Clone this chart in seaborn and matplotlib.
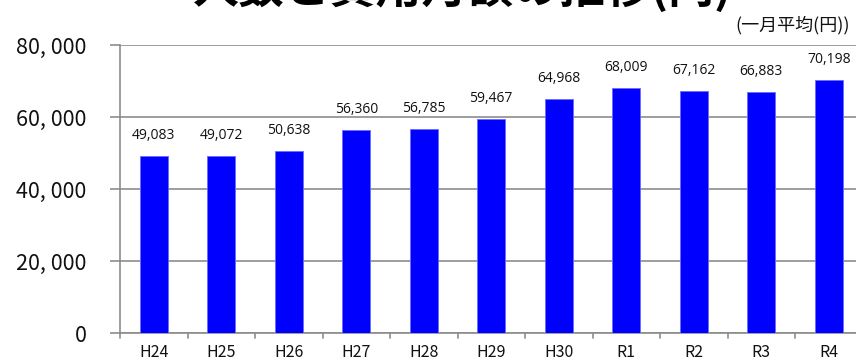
import matplotlib
matplotlib.use("Agg")
import matplotlib.pyplot as plt
import seaborn as sns
import pandas as pd

years = ["H24", "H25", "H26", "H27", "H28", "H29", "H30", "R1", "R2", "R3", "R4"]
monthly_cost = [49083, 49072, 50638, 56360, 56785, 59467, 64968, 68009, 67162, 66883, 70198]
y_ticks = [0, 20000, 40000, 60000, 80000]
y_tick_labels = ["0", "20, 000", "40, 000", "60, 000", "80, 000"]
title_text = "人数と費用月額の推移(円)"
unit_text = "(一月平均(円))"

sns.set_theme(style="white")
plt.rcParams["font.family"] = ["Noto Sans CJK JP", "DejaVu Sans"]

df = pd.DataFrame({"year": years, "cost": monthly_cost})

fig = plt.figure(figsize=(8.56, 3.61), dpi=100)
W, H = 856, 361
left, right, top, bottom = 120, 856, 45, 333
ax = fig.add_axes([left / W, 1 - bottom / H, (right - left) / W, (bottom - top) / H])

sns.barplot(data=df, x="year", y="cost", color="#0000FF", saturation=1,
            width=0.415, ax=ax, zorder=3)
for p in ax.patches:
    p.set_edgecolor("#6A6AFF")
    p.set_linewidth(0.6)

step = 67.5
ax.set_xlim(-0.5, -0.5 + (right - left) / step)
ax.set_ylim(0, 80000)
ax.set_yticks(y_ticks)
ax.set_yticklabels(y_tick_labels, fontsize=15.5, color="#111111")
ax.yaxis.grid(True, color="#8C8C8C", linewidth=1.2, zorder=0)
ax.set_xlabel("")
ax.set_ylabel("")

ax.set_xticks(range(len(years)))
ax.set_xticklabels(years, fontsize=11.5, color="#111111")
ax.tick_params(axis="x", length=0, pad=8)
ax.tick_params(axis="y", length=7, width=1.2, color="#8C8C8C", left=True, pad=17)

# boundary ticks between categories
for i in range(len(years) + 1):
    ax.plot([i - 0.5, i - 0.5], [0, -0.018], transform=ax.get_xaxis_transform(),
            color="#8C8C8C", lw=1.2, clip_on=False)

for s in ["top", "right"]:
    ax.spines[s].set_visible(False)
for s in ["left", "bottom"]:
    ax.spines[s].set_color("#8C8C8C")
    ax.spines[s].set_linewidth(1.2)

for i, v in enumerate(monthly_cost):
    ax.text(i, v + 3600, f"{v:,}", ha="center", va="bottom", fontsize=10,
            family=["Open Sans", "DejaVu Sans"], color="#111111")

fig.text(463 / W, 1 - 13 / H, title_text, ha="center", va="bottom",
         fontsize=33, fontweight="bold", color="black")
fig.text(850 / W, 1 - 25 / H, unit_text, ha="right", va="center",
         fontsize=13, color="#111111")

fig.savefig("out.png", dpi=100)
